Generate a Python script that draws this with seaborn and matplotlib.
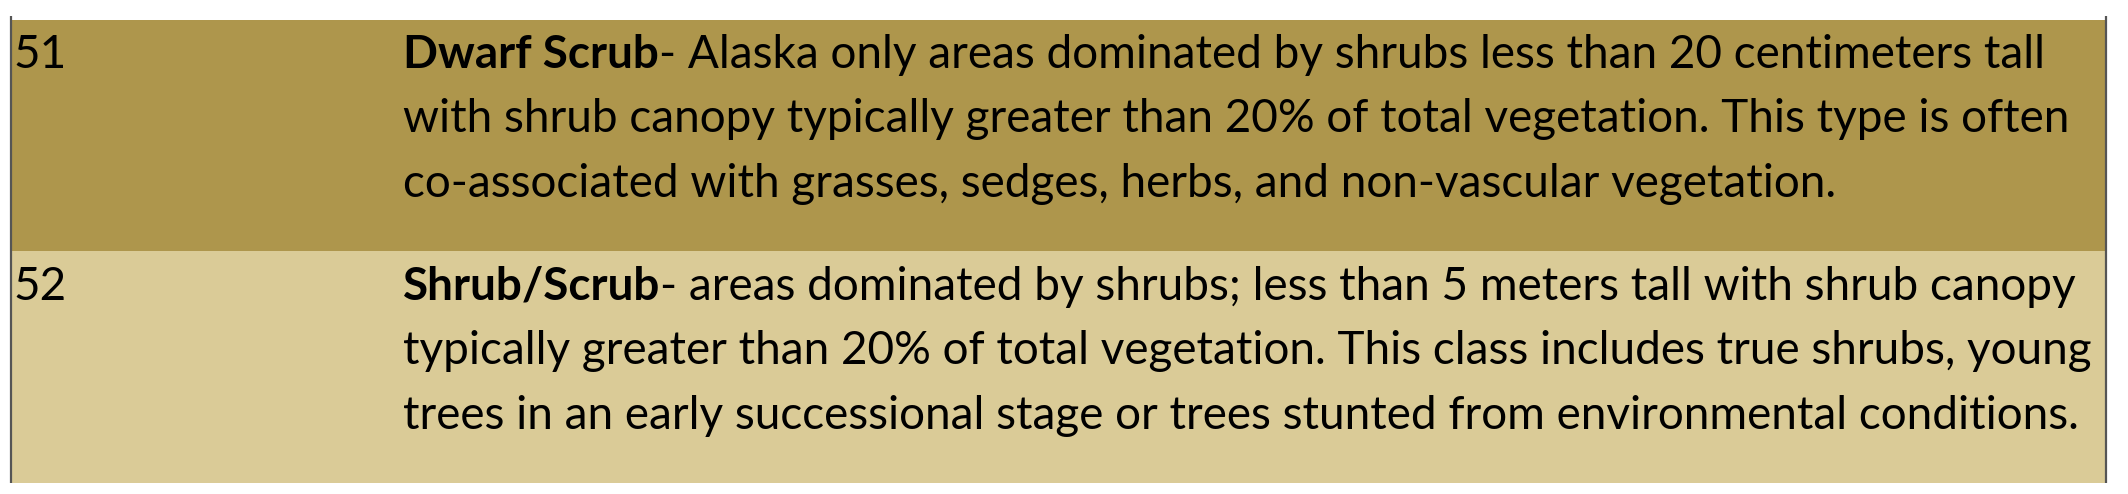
import matplotlib
matplotlib.use("Agg")
import matplotlib.pyplot as plt
import seaborn as sns
import numpy as np
import pandas as pd
from matplotlib.colors import ListedColormap

# ---- data ----
codes = [51, 52]
class_names = ["Dwarf Scrub", "Shrub/Scrub"]
first_line_rest = [
    "- Alaska only areas dominated by shrubs less than 20 centimeters tall",
    "- areas dominated by shrubs; less than 5 meters tall with shrub canopy",
]
more_lines = [
    ["with shrub canopy typically greater than 20% of total vegetation. This type is often",
     "co-associated with grasses, sedges, herbs, and non-vascular vegetation."],
    ["typically greater than 20% of total vegetation. This class includes true shrubs, young",
     "trees in an early successional stage or trees stunted from environmental conditions."],
]
row_colors = ["#AE964C", "#DACB97"]

# ---- layout (pixels) ----
W, H = 2128, 494
tbl_left, tbl_right = 11, 2106
tbl_top, tbl_bottom = 20, 483
desc_x = 403
code_x = 13
line_offsets = [48, 112, 177]
target_width = 1680  # width of longest regular line in px

sns.set_style("white")
plt.rcParams['font.family'] = ['Lato', 'DejaVu Sans']

fig = plt.figure(figsize=(W / 100, H / 100), dpi=100)
fig.patch.set_facecolor("white")

ax = fig.add_axes([tbl_left / W, (H - tbl_bottom) / H,
                   (tbl_right - tbl_left) / W, (tbl_bottom - tbl_top) / H])
df = pd.DataFrame({"row": np.arange(len(codes))}, index=codes)
sns.heatmap(df, ax=ax, cmap=ListedColormap(row_colors), vmin=-0.5,
            vmax=len(codes) - 0.5, cbar=False, xticklabels=False,
            yticklabels=False, linewidths=0)
ax.set_xlabel("")
ax.set_ylabel("")
for s in ax.spines.values():
    s.set_visible(False)

ov = fig.add_axes([0, 0, 1, 1], facecolor="none")
ov.set_xlim(0, W)
ov.set_ylim(H, 0)
ov.axis("off")

# borders
ov.plot([tbl_left, tbl_left], [16, tbl_bottom], color="#555555", lw=1.6, solid_capstyle="butt")
ov.plot([tbl_right, tbl_right], [16, tbl_bottom], color="#555555", lw=1.6, solid_capstyle="butt")

# fit font size
probe = ov.text(0, 100, more_lines[1][1], fontsize=20)
fig.canvas.draw()
r = fig.canvas.get_renderer()
w = probe.get_window_extent(r).width
fs = 20 * target_width / w
probe.remove()

row_h = (tbl_bottom - tbl_top) / len(codes)
for i, code in enumerate(codes):
    top = tbl_top + i * row_h
    y0 = top + line_offsets[0]
    ov.text(code_x, y0, str(code), fontsize=fs, va="baseline", ha="left", color="black")
    b = ov.text(desc_x, y0, class_names[i], fontsize=fs, fontweight="bold",
                va="baseline", ha="left", color="black")
    fig.canvas.draw()
    ext = b.get_window_extent(r)
    ov.text(ext.x1, y0, first_line_rest[i], fontsize=fs, va="baseline",
            ha="left", color="black")
    for j, line in enumerate(more_lines[i]):
        ov.text(desc_x, top + line_offsets[j + 1], line, fontsize=fs,
                va="baseline", ha="left", color="black")

fig.savefig("out.png", dpi=100, facecolor="white")
